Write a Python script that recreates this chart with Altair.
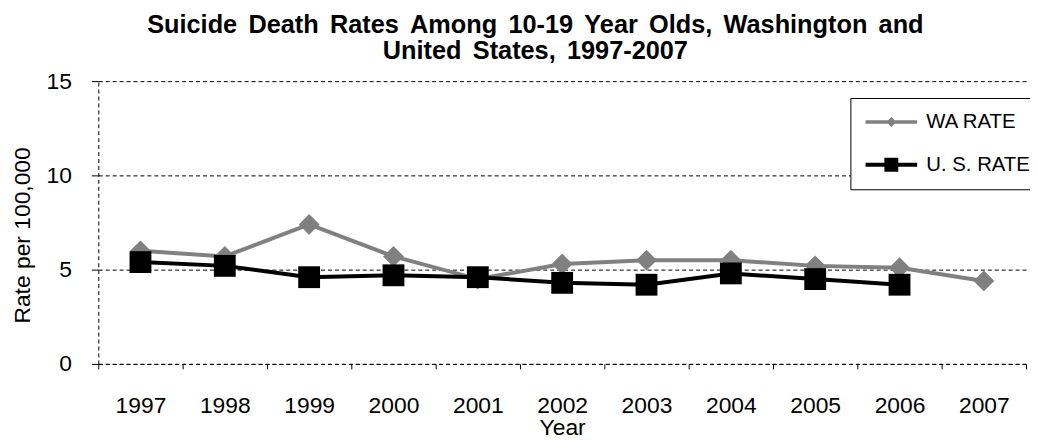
import altair as alt
import pandas as pd

years = ["1997", "1998", "1999", "2000", "2001", "2002", "2003", "2004", "2005", "2006", "2007"]
wa_rate = [6.0, 5.7, 7.4, 5.7, 4.5, 5.3, 5.5, 5.5, 5.2, 5.1, 4.4]
us_rate = [5.4, 5.2, 4.6, 4.7, 4.6, 4.3, 4.2, 4.8, 4.5, 4.2]
series_names = ["WA RATE", "U. S. RATE"]
series_colors = ["#808080", "#000000"]
series_shapes = ["diamond", "square"]
series_sizes = [440, 484]
y_ticks = [0, 5, 10, 15]

legend_paths = [
    "M-3.25,-0.22L-0.4,-0.22L0,-0.625L0.4,-0.22L3.25,-0.22L3.25,0.22L0.4,0.22L0,0.625L-0.4,0.22L-3.25,0.22Z",
    "M-3.25,-0.25L-0.875,-0.25L-0.875,-0.875L0.875,-0.875L0.875,-0.25L3.25,-0.25L3.25,0.25L0.875,0.25L0.875,0.875L-0.875,0.875L-0.875,0.25L-3.25,0.25Z",
]

rows = []
for yr, v in zip(years, wa_rate):
    rows.append({"year": yr, "series": series_names[0], "rate": v})
for yr, v in zip(years, us_rate):
    rows.append({"year": yr, "series": series_names[1], "rate": v})
df = pd.DataFrame(rows)

FONT = "Liberation Sans"
SP = " \u2006"

x_enc = alt.X(
    "year:O",
    sort=years,
    scale=alt.Scale(type="band", domain=years, paddingInner=0, paddingOuter=0),
    axis=alt.Axis(
        title="Year", labelAngle=0, labelFontSize=23, labelFont=FONT, labelColor="black",
        labelPadding=26, tickSize=5, tickColor="black", tickBand="extent",
        domainColor="black", domainDash=[4, 3], domainWidth=1, grid=False,
        titleFontSize=23, titleFont=FONT, titleFontWeight="normal", titleColor="black",
        titleY=53, titleBaseline="top",
    ),
)
y_enc = alt.Y(
    "rate:Q",
    scale=alt.Scale(domain=[0, 15], nice=False, zero=True),
    axis=alt.Axis(
        values=y_ticks, title="Rate per 100,000", labelFontSize=23, labelFont=FONT,
        labelColor="black", labelPadding=20, tickSize=7, tickColor="black",
        domainColor="black", domainDash=[4, 3], grid=True, gridColor="black",
        gridDash=[4, 3], gridWidth=1, titleFontSize=23, titleFont=FONT,
        titleFontWeight="normal", titleColor="black", titleAngle=270,
        titleX=-76, titleY=155, titleAlign="center", titleBaseline="middle",
    ),
)

layers = []
for name, color, shape, size in zip(series_names, series_colors, series_shapes, series_sizes):
    base = alt.Chart(df).transform_filter(alt.datum.series == name)
    layers.append(base.mark_line(color=color, strokeWidth=4).encode(x=x_enc, y=y_enc))
    layers.append(
        base.mark_point(shape=shape, filled=True, size=size, color=color, opacity=1).encode(x=x_enc, y=y_enc)
    )

legend = alt.Legend(
    title=None, orient="none", legendX=758, legendY=17, padding=14,
    strokeColor="black", fillColor="white", symbolSize=256, symbolStrokeWidth=0,
    symbolOffset=17, labelOffset=25, labelFontSize=20.5, labelFont=FONT, labelColor="black",
    rowPadding=22, labelLimit=300, symbolOpacity=1,
)

legend_layer = (
    alt.Chart(df)
    .transform_filter("false")
    .mark_point(filled=True, size=256, opacity=1)
    .encode(
        x=x_enc,
        y=y_enc,
        color=alt.Color("series:N", scale=alt.Scale(domain=series_names, range=series_colors), legend=legend),
        shape=alt.Shape("series:N", scale=alt.Scale(domain=series_names, range=legend_paths), legend=legend),
    )
)

title_lines = [
    SP.join("Suicide Death Rates Among 10-19 Year Olds, Washington and".split(" ")),
    SP.join("United States, 1997-2007".split(" ")),
]

chart = (
    alt.layer(*layers, legend_layer)
    .properties(
        width=935,
        height=285,
        title=alt.Title(
            text=title_lines, fontSize=25.5, fontWeight="bold", font=FONT, color="black",
            anchor="middle", dx=-27, lineHeight=26, offset=6,
        ),
        autosize=alt.AutoSizeParams(type="none"),
        padding={"left": 91, "top": 72, "right": 4, "bottom": 75},
    )
    .configure_view(strokeWidth=0)
)

chart.save("out.html", embed_options={"renderer": "svg", "actions": False})
